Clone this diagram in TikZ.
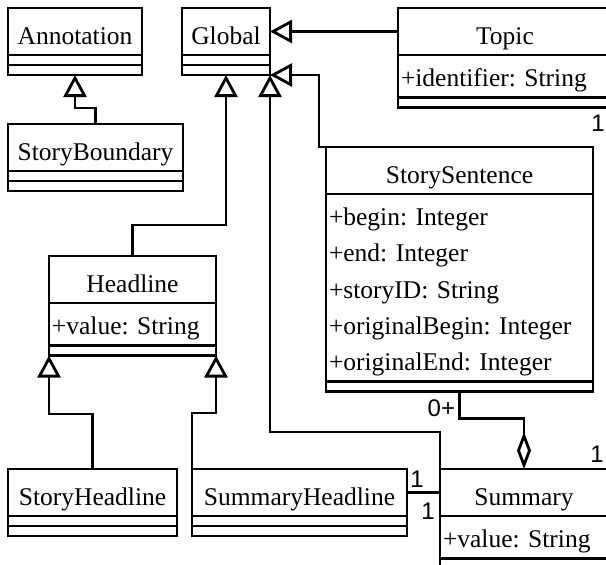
\documentclass[tikz,border=0pt]{standalone}
\usepackage{fontspec}
\setmainfont{Liberation Serif}
\newfontfamily\multfont{Liberation Sans}
\usetikzlibrary{arrows.meta,positioning}

\newcommand{\attrstrut}{\rule[-6.5pt]{0pt}{33.5pt}}

\tikzset{
  uml/.style={draw, line width=2.8pt, inner sep=0pt, outer sep=0pt, anchor=north},
  clsname/.style={uml, minimum height=47pt, text height=25pt, text depth=0pt,
    font=\frenchspacing\fontsize{25.5}{36}\selectfont},
  clspart/.style={uml, minimum height=10pt},
  clsattr/.style={uml, inner xsep=3pt, inner ysep=4.5pt, align=left,
    font=\frenchspacing\fontsize{25.5}{36.25}\selectfont},
  gen/.style={line width=2.8pt, -{Triangle[open,length=22pt,width=23pt]}},
  aggr/.style={line width=2.8pt, -{Diamond[open,length=37pt,width=14pt]}},
  assoc/.style={line width=2.8pt},
  mult/.style={font=\multfont\fontsize{24}{24}\selectfont, inner sep=1pt},
}

\begin{document}
\begin{tikzpicture}[x=1pt, y=-1pt]
  \useasboundingbox (0,0) rectangle (606,565);
  \clip (0,0) rectangle (606,565);

  % Annotation
  \node[clsname, minimum width=134pt] (annot) at (75,8) {Annotation};
  \node[clspart, minimum width=134pt, below=0pt of annot] (annotattr) {};
  \node[clspart, minimum width=134pt, below=0pt of annotattr] (annotops) {};
  % Global
  \node[clsname, minimum width=88pt] (glob) at (226,8) {Global};
  \node[clspart, minimum width=88pt, below=0pt of glob] (globattr) {};
  \node[clspart, minimum width=88pt, below=0pt of globattr] (globops) {};
  % Topic
  \node[clsname, minimum width=214pt] (topic) at (505,8) {Topic};
  \node[clsattr, text width=208pt, below=0pt of topic] (topicattr) {\attrstrut+identifier: String};
  \node[clspart, minimum width=214pt, below=0pt of topicattr] (topicops) {};
  % StoryBoundary
  \node[clsname, minimum width=175pt] (sbnd) at (95.5,124) {StoryBoundary};
  \node[clspart, minimum width=175pt, below=0pt of sbnd] (sbndattr) {};
  \node[clspart, minimum width=175pt, below=0pt of sbndattr] (sbndops) {};
  % StorySentence
  \node[clsname, minimum width=267pt] (ssent) at (459.5,147) {StorySentence};
  \node[clsattr, text width=261pt, below=0pt of ssent] (ssentattr)
    {\attrstrut+begin: Integer\\\attrstrut+end: Integer\\\attrstrut+storyID: String\\
     \attrstrut+originalBegin: Integer\\\attrstrut+originalEnd: Integer};
  \node[clspart, minimum width=267pt, below=0pt of ssentattr] (ssentops) {};
  % Headline
  \node[clsname, minimum width=167pt] (hline) at (132.5,256) {Headline};
  \node[clsattr, text width=161pt, below=0pt of hline] (hlineattr) {\attrstrut+value: String};
  \node[clspart, minimum width=167pt, below=0pt of hlineattr] (hlineops) {};
  % StoryHeadline
  \node[clsname, minimum width=169pt] (shline) at (92.5,469) {StoryHeadline};
  \node[clspart, minimum width=169pt, below=0pt of shline] (shlineattr) {};
  \node[clspart, minimum width=169pt, below=0pt of shlineattr] (shlineops) {};
  % SummaryHeadline
  \node[clsname, minimum width=215pt] (suhline) at (299.5,469) {SummaryHeadline};
  \node[clspart, minimum width=215pt, below=0pt of suhline] (suhlineattr) {};
  \node[clspart, minimum width=215pt, below=0pt of suhlineattr] (suhlineops) {};
  % Summary
  \node[clsname, minimum width=168pt] (sum) at (524,469) {Summary};
  \node[clsattr, text width=162pt, below=0pt of sum] (sumattr) {\attrstrut+value: String};
  \node[clspart, minimum width=168pt, below=0pt of sumattr] (sumops) {};

  % generalizations
  \draw[gen] (sbnd.north) -- ++(0,-16) -| (annotops.south);
  \draw[gen] (topic.west) -- (glob.east);
  \draw[gen] (ssent.north west) -- ++(-7,0) |- (globops.south east);
  \draw[gen] (hline.north) -- ++(0,-31) -| (globops.south);
  \draw[gen] (sum.north west) -- ++(0,-37) -| (globops.south east);
  \draw[gen] (shline.north) -- ++(0,-55) -| (hlineops.south west);
  \draw[gen] (suhline.north west) -- ++(0,-56) -| (hlineops.south east);

  % associations
  \draw[aggr] (ssentops.south) node[mult, anchor=north east, xshift=-2pt, yshift=-6pt] (mzero) {0+}
    -- ++(0,27) -| (sum.north);
  \draw[assoc] (suhline.east) node[mult, anchor=south west, xshift=1pt, yshift=3pt] (mone) {1}
    -- (sum.west) node[mult, anchor=north east, xshift=-3pt, yshift=-8pt] (mtwo) {1};
  \node[mult] (mtopic) at (598,123) {1};
  \node[mult] (msum) at (597,454) {1};
\end{tikzpicture}
\end{document}
